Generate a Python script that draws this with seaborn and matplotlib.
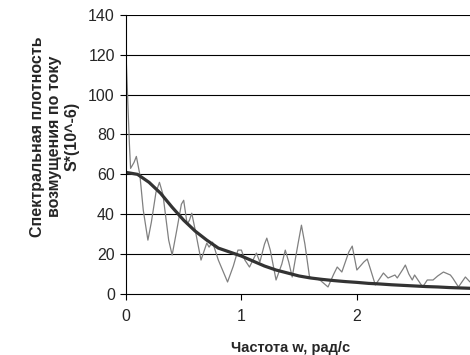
import numpy as np
import pandas as pd
import seaborn as sns
import matplotlib
matplotlib.use('Agg')
import matplotlib.pyplot as plt

sns.set_theme(style='ticks')
plt.rcParams['font.family'] = ['Liberation Sans', 'DejaVu Sans']

# measured spectrum (noisy)
w_meas = [0.00, 0.03, 0.04, 0.07, 0.09, 0.11, 0.12, 0.15, 0.19, 0.22,
          0.26, 0.29, 0.32, 0.37, 0.40, 0.44, 0.48, 0.50, 0.53, 0.55,
          0.57, 0.60, 0.65, 0.70, 0.72, 0.75, 0.80, 0.88, 0.93, 0.97,
          1.00, 1.03, 1.07, 1.13, 1.16, 1.20, 1.22, 1.25, 1.30, 1.35,
          1.38, 1.41, 1.44, 1.49, 1.52, 1.55, 1.59, 1.68, 1.75, 1.80,
          1.83, 1.87, 1.93, 1.96, 2.00, 2.06, 2.09, 2.12, 2.16, 2.23,
          2.27, 2.33, 2.35, 2.40, 2.42, 2.45, 2.48, 2.50, 2.57, 2.61,
          2.66, 2.70, 2.75, 2.81, 2.83, 2.88, 2.94, 2.98]
s_meas = [121, 75, 63, 66, 69, 63, 60, 42, 27, 36,
          51, 56, 50, 27, 19.5, 32, 45, 47, 35, 37,
          40.5, 32, 17, 25.5, 23.5, 26, 17, 6, 14, 22,
          22, 17, 13.5, 20.5, 16, 25, 28, 22, 7, 15,
          22, 16, 8.5, 25, 34.5, 25, 8.5, 7, 3.5, 10,
          13.5, 11, 21, 24, 12, 16, 17.5, 12, 4.5, 10.5,
          8, 9.5, 8, 12.5, 14.5, 10, 7, 9.5, 3.5, 7,
          7, 9, 11, 9.5, 8, 3.5, 8.5, 6]

# approximating (smooth) spectrum
w_fit = [0.0, 0.1, 0.2, 0.3, 0.4, 0.5, 0.6, 0.7, 0.8, 0.9, 1.0,
         1.1, 1.2, 1.3, 1.4, 1.5, 1.6, 1.7, 1.8, 1.9, 2.0,
         2.1, 2.2, 2.3, 2.4, 2.5, 2.6, 2.7, 2.8, 2.9, 3.0]
s_fit = [61, 60, 56, 50.5, 43.5, 37, 31.5, 27, 23, 21, 19,
         16.5, 14, 12, 10.5, 9, 8, 7.3, 6.7, 6.2, 5.8,
         5.3, 5, 4.6, 4.3, 4, 3.7, 3.5, 3.2, 3, 2.8]

df_meas = pd.DataFrame({'w': w_meas, 's': s_meas})
df_fit = pd.DataFrame({'w': w_fit, 's': s_fit})

fig = plt.figure(figsize=(4.7, 3.55), dpi=100)
ax = fig.add_axes([0.268, 0.172, 0.732, 0.786])

for yv in range(20, 160, 20):
    ax.axhline(yv, color='black', lw=0.8, zorder=0)

sns.lineplot(data=df_meas, x='w', y='s', ax=ax, color='#808080', lw=0.9)
sns.lineplot(data=df_fit, x='w', y='s', ax=ax, color='#333333', lw=2.3)

ax.set_xlim(0, 2.98)
ax.set_ylim(0, 140)
ax.set_xticks([0, 1, 2])
ax.set_yticks(range(0, 160, 20))
ax.tick_params(axis='both', labelsize=11.5, length=4, width=0.8, color='black', pad=4)
ax.tick_params(axis='x', pad=7)
for side in ['top', 'right']:
    ax.spines[side].set_visible(False)
for side in ['left', 'bottom']:
    ax.spines[side].set_color('black')
    ax.spines[side].set_linewidth(0.8)

ax.set_xlabel('Частота w, рад/с', fontsize=10.5, fontweight='bold')
ax.xaxis.set_label_coords(0.477, -0.17)
ax.set_ylabel('Спектральная плотность\nвозмущения по току\nS*(10^-6)',
              fontsize=11.5, fontweight='bold', linespacing=1.2)
ax.yaxis.set_label_coords(-0.134, 0.565)

fig.savefig('out.png', dpi=100)
